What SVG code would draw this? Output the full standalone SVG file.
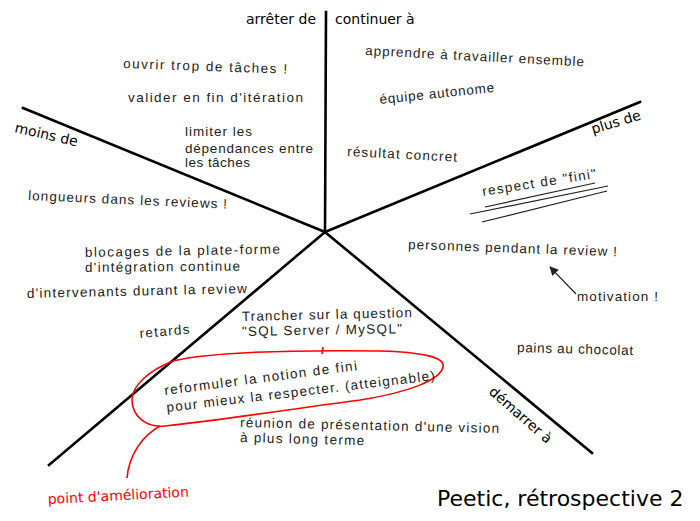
<svg xmlns="http://www.w3.org/2000/svg" width="700" height="521" viewBox="0 0 700 521">
<style>
.lbl{font-family:"DejaVu Sans",sans-serif;font-size:14px;fill:#000}
.hw{font-family:"Liberation Sans",sans-serif;font-size:13.5px;fill:#222}
.axis{stroke:#000;stroke-width:2.6;fill:none;stroke-linecap:square}
.red{stroke:#ff0000;stroke-width:1.6;fill:none}
.ul{stroke:#222;stroke-width:1.2;fill:none}
</style>
<defs>
<marker id="ah" viewBox="0 0 10 10" refX="9" refY="5" markerWidth="9" markerHeight="9" markerUnits="userSpaceOnUse" orient="auto">
<path d="M0,0 L10,5 L0,10 Z" fill="#222"/>
</marker>
</defs>
<rect width="700" height="521" fill="#fff"/>
<g id="connectors">
<line class="axis" x1="326" y1="12" x2="325" y2="232"/>
<line class="axis" x1="23" y1="108" x2="325" y2="232"/>
<line class="axis" x1="640" y1="102" x2="325" y2="232"/>
<line class="axis" x1="49" y1="465" x2="325" y2="232"/>
<line class="axis" x1="592" y1="453" x2="325" y2="232"/>
<line x1="576" y1="294" x2="550" y2="267" stroke="#222" stroke-width="1.1" marker-end="url(#ah)"/>
<path class="red" d="M160,426 C142,436 129,455 127,478"/>
</g>
<g id="labels">
<text class="lbl" x="316" y="24" text-anchor="end">arrêter de</text>
<text class="lbl" x="335" y="24">continuer à</text>
<text class="lbl" transform="translate(14,132) rotate(13)">moins de</text>
<text class="lbl" transform="translate(593,134) rotate(-17)">plus de</text>
<text class="lbl" transform="translate(488,393) rotate(41)">démarrer à</text>
</g>
<g id="title">
<text x="437" y="506" style="font-family:'DejaVu Sans',sans-serif;font-size:22px;fill:#000">Peetic, rétrospective 2</text>
</g>
<g id="point-amelioration">
<text transform="translate(48,504) rotate(-3)" style="font-family:'DejaVu Sans',sans-serif;font-size:14px;fill:#ff0000">point d'amélioration</text>
</g>
<g id="arreter">
<text class="hw" transform="translate(123,68) rotate(2)" textLength="164" lengthAdjust="spacing">ouvrir trop de tâches !</text>
<text class="hw" x="128" y="102" textLength="175" lengthAdjust="spacing">valider en fin d'itération</text>
<text class="hw" x="185" y="136" textLength="67" lengthAdjust="spacing">limiter les</text>
<text class="hw" x="185" y="153" textLength="128" lengthAdjust="spacing">dépendances entre</text>
<text class="hw" x="185" y="167" textLength="65" lengthAdjust="spacing">les tâches</text>
</g>
<g id="continuer">
<text class="hw" transform="translate(365,55) rotate(3)" textLength="219" lengthAdjust="spacing">apprendre à travailler ensemble</text>
<text class="hw" transform="translate(380,104) rotate(-6)" textLength="115" lengthAdjust="spacing">équipe autonome</text>
<text class="hw" transform="translate(347,156) rotate(3)" textLength="110" lengthAdjust="spacing">résultat concret</text>
</g>
<g id="plus">
<text class="hw" transform="translate(483,196) rotate(-9)" textLength="115" lengthAdjust="spacing">respect de "fini"</text>
<line class="ul" x1="485" y1="207" x2="595" y2="183"/>
<line class="ul" x1="470" y1="214" x2="608" y2="186"/>
<line class="ul" x1="482" y1="222" x2="607" y2="191"/>
<text class="hw" transform="translate(408,249) rotate(2)" textLength="209" lengthAdjust="spacing">personnes pendant la review !</text>
<text class="hw" x="577" y="301" textLength="81" lengthAdjust="spacing">motivation !</text>
</g>
<g id="demarrer">
<text class="hw" transform="translate(517,352) rotate(1.5)" textLength="116" lengthAdjust="spacing">pains au chocolat</text>
</g>
<g id="moins">
<text class="hw" transform="translate(28,200) rotate(2.5)" textLength="199" lengthAdjust="spacing">longueurs dans les reviews !</text>
<text class="hw" transform="translate(85,257) rotate(-1)" textLength="195" lengthAdjust="spacing">blocages de la plate-forme</text>
<text class="hw" transform="translate(85,272) rotate(-0.5)" textLength="155" lengthAdjust="spacing">d'intégration continue</text>
<text class="hw" transform="translate(27,298) rotate(-1.3)" textLength="220" lengthAdjust="spacing">d'intervenants durant la review</text>
<text class="hw" transform="translate(140,338) rotate(-5)" textLength="50" lengthAdjust="spacing">retards</text>
</g>
<g id="bas">
<text class="hw" transform="translate(242,321) rotate(-1.3)" textLength="170" lengthAdjust="spacing">Trancher sur la question</text>
<text class="hw" transform="translate(242,336) rotate(-1)" textLength="160" lengthAdjust="spacing">"SQL Server / MySQL"</text>
<text class="hw" transform="translate(240,427) rotate(1.3)" textLength="259" lengthAdjust="spacing">réunion de présentation d'une vision</text>
<text class="hw" transform="translate(240,442) rotate(1.5)" textLength="124" lengthAdjust="spacing">à plus long terme</text>
</g>
<g id="reformuler">
<path class="red" d="M173,361 C210,352 300,350 380,351 C420,352 446,357 443,367 C440,380 410,392 360,400 C300,408 220,420 165,426 C145,428 132,415 132,400 C132,385 150,370 173,361 Z"/>
<path class="red" d="M323,347 L322,354"/>
<text class="hw" transform="translate(165,395) rotate(-7.4)" textLength="194" lengthAdjust="spacing">reformuler la notion de fini</text>
<text class="hw" transform="translate(167,412) rotate(-6.8)" textLength="270" lengthAdjust="spacing">pour mieux la respecter. (atteignable)</text>
</g>
</svg>
